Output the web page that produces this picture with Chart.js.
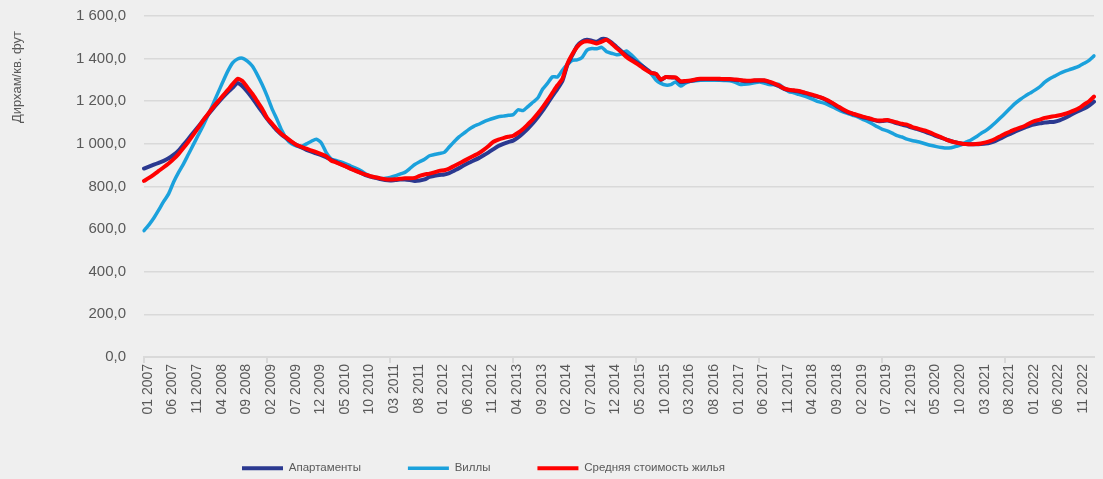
<!DOCTYPE html>
<html>
<head>
<meta charset="utf-8">
<script src="https://cdn.jsdelivr.net/npm/chart.js@4.4.1/dist/chart.umd.min.js"></script>
<style>
  body { margin: 0; background: #efefef; }
  #wrap { width: 1103px; height: 479px; position: relative; }
</style>
</head>
<body>
<div id="wrap"><canvas id="price_chart"></canvas></div>
<script>
// Monthly series, 01 2007 .. 02 2023
let apartments = [
  884, 893, 902, 911, 920, 932, 948, 968, 995, 1023, 1052, 1080,
  1109, 1137, 1165, 1192, 1218, 1242, 1263, 1285, 1270, 1245, 1215, 1182,
  1150, 1118, 1090, 1063, 1042, 1025, 1008, 994, 983, 972, 963, 955,
  947, 937, 925, 915, 905, 895, 884, 874, 865, 853, 846, 840,
  835, 830, 828, 830, 832, 833, 830, 826, 828, 833, 845, 850,
  854, 856, 862, 874, 886, 899, 911, 922, 933, 946, 960, 975,
  990, 1000, 1008, 1015, 1030, 1050, 1072, 1097, 1125, 1156, 1190, 1225,
  1258, 1295, 1370, 1415, 1460, 1480, 1488, 1484, 1479, 1492, 1490, 1475,
  1455, 1435, 1416, 1400, 1384, 1368, 1352, 1334, 1328, 1300, 1313, 1312,
  1310, 1290, 1292, 1295, 1300, 1303, 1304, 1304, 1304, 1303, 1302, 1302,
  1300, 1298, 1294, 1294, 1296, 1297, 1296, 1290, 1280, 1270, 1258, 1252,
  1249, 1246, 1240, 1234, 1227, 1220, 1212, 1200, 1188, 1172, 1158, 1148,
  1140, 1132, 1125, 1120, 1113, 1107, 1107, 1110, 1104, 1096, 1090, 1084,
  1076, 1070, 1062, 1054, 1046, 1036, 1028, 1020, 1012, 1006, 1002, 999,
  998, 998, 999, 1001, 1006, 1014, 1025, 1037, 1047, 1058, 1068, 1077,
  1086, 1092, 1096, 1100, 1102, 1104, 1110, 1120, 1132, 1145, 1156, 1166,
  1180, 1198
]
let villas = [
  593, 620, 652, 690, 730, 765, 820, 865, 905, 950, 995, 1040,
  1085, 1135, 1185, 1238, 1290, 1340, 1380, 1398, 1402, 1388, 1365, 1325,
  1278, 1225, 1165, 1115, 1062, 1022, 1000, 990, 988, 1000, 1012, 1022,
  1005, 960, 930, 922, 915, 906, 896, 886, 875, 860, 848, 843,
  839, 838, 842, 849, 858, 866, 884, 903, 916, 928, 944, 950,
  955, 960, 985, 1010, 1033, 1050, 1068, 1082, 1092, 1103, 1112, 1120,
  1127, 1130, 1134, 1137, 1160, 1156, 1175, 1195, 1215, 1257, 1285, 1315,
  1314, 1345, 1372, 1392, 1394, 1405, 1440, 1447, 1446, 1453, 1432, 1425,
  1418, 1422, 1436, 1418, 1395, 1372, 1350, 1330, 1300, 1284, 1276, 1278,
  1290, 1271, 1285, 1293, 1296, 1298, 1298, 1298, 1298, 1298, 1297, 1296,
  1290, 1279, 1280, 1282, 1286, 1290, 1285, 1278, 1278, 1279, 1262, 1245,
  1240, 1232, 1225, 1217, 1208, 1198, 1192, 1183, 1172, 1160, 1150, 1142,
  1134, 1126, 1115, 1105, 1093, 1080, 1068, 1061, 1050, 1038, 1032, 1022,
  1016, 1011, 1005, 998, 992, 987, 983, 980, 982, 988, 995, 1008,
  1018, 1032, 1048, 1062, 1080, 1100, 1122, 1145, 1168, 1190, 1208, 1224,
  1238, 1252, 1268, 1290, 1306, 1318, 1330, 1340, 1348, 1356, 1365, 1378,
  1392, 1413
]
let average = [
  826, 840, 856, 873, 890, 908, 928, 952, 980, 1010, 1042, 1075,
  1109, 1140, 1170, 1198, 1225, 1252, 1280, 1305, 1295, 1265, 1235, 1200,
  1165, 1122, 1095, 1068, 1045, 1028, 1010, 995, 986, 977, 969, 961,
  952, 942, 922, 913, 904, 894, 882, 873, 864, 856, 848, 843,
  838, 834, 833, 834, 836, 838, 838, 840, 850, 856, 860, 866,
  873, 876, 884, 896, 908, 920, 932, 944, 956, 972, 990, 1010,
  1020, 1027, 1033, 1038, 1052, 1070, 1092, 1115, 1142, 1172, 1205, 1240,
  1275, 1305, 1375, 1420, 1455, 1476, 1481, 1478, 1471, 1480, 1488, 1470,
  1450, 1430, 1408, 1392, 1378, 1362, 1346, 1333, 1328, 1302, 1314, 1312,
  1312, 1294, 1295, 1297, 1302, 1305, 1306, 1306, 1306, 1305, 1304, 1304,
  1302, 1300, 1297, 1296, 1298, 1299, 1298, 1292, 1284, 1274, 1260, 1254,
  1251, 1248, 1242, 1236, 1229, 1222, 1214, 1203, 1190, 1176, 1162, 1150,
  1142, 1134, 1128, 1122, 1115, 1110, 1110, 1112, 1106, 1100, 1094, 1090,
  1080, 1073, 1066, 1060, 1050, 1040, 1030, 1020, 1012, 1006, 1002, 999,
  998, 999, 1002, 1007, 1014, 1024, 1036, 1048, 1058, 1068, 1076, 1085,
  1098, 1108, 1114, 1122, 1126, 1130, 1134, 1140, 1148, 1157, 1168, 1185,
  1200, 1222
]
let seriesNames = ['Апартаменты', 'Виллы', 'Средняя стоимость жилья']
let yTitle = 'Дирхам/кв. фут'

// Category labels "MM YYYY", one per month
let months = []
for (let y = 2007; months.length < apartments.length; y++) {
  for (let m = 1; m <= 12 && months.length < apartments.length; m++) {
    months.push((m < 10 ? '0' + m : '' + m) + ' ' + y)
  }
}

// 1 600,0 style numbers
function fmtY(v) {
  let parts = v.toFixed(1).split('.')
  return parts[0].replace(/\B(?=(\d{3})+(?!\d))/g, ' ') + ',' + parts[1]
}

let textColor = '#595959'
let gridColor = '#d9d9d9'

// rotated axis title sits near the top of the axis, not centred
const axisTitle = {
  id: 'axisTitle',
  afterDraw(chart) {
    const {ctx, chartArea} = chart
    ctx.save()
    ctx.translate(17, chartArea.top + 61)
    ctx.rotate(-Math.PI / 2)
    ctx.font = '13px "Liberation Sans", Arial, sans-serif'
    ctx.fillStyle = textColor
    ctx.textAlign = 'center'
    ctx.textBaseline = 'middle'
    ctx.fillText(yTitle, 0, 0)
    ctx.restore()
  }
}

// the legend in the original sits a bit left of the centre
const legendShift = {
  id: 'legendShift',
  afterLayout(chart) {
    if (chart.legend) chart.legend.right -= 135
  }
}

let lineStyle = {
  fill: false,
  pointRadius: 0,
  tension: 0.2,
  borderJoinStyle: 'round',
  borderCapStyle: 'round'
}

let ctx = document.getElementById('price_chart')
new Chart(ctx, {
  type: 'line',
  data: {
    labels: months,
    datasets: [
      Object.assign({label: seriesNames[0], data: apartments, borderColor: '#2b3990', backgroundColor: '#2b3990', borderWidth: 4, order: 1}, lineStyle),
      Object.assign({label: seriesNames[1], data: villas, borderColor: '#1ba1dc', backgroundColor: '#1ba1dc', borderWidth: 3.5, order: 2}, lineStyle),
      Object.assign({label: seriesNames[2], data: average, borderColor: '#ff0000', backgroundColor: '#ff0000', borderWidth: 4, order: 0}, lineStyle)
    ]
  },
  plugins: [axisTitle, legendShift],
  options: {
    responsive: true,
    maintainAspectRatio: false,
    animation: false,
    layout: {
      padding: {left: 8, right: 9, top: 16, bottom: -5}
    },
    plugins: {
      tooltip: {enabled: false},
      legend: {
        position: 'bottom',
        labels: {
          usePointStyle: true,
          pointStyle: 'line',
          pointStyleWidth: 41,
          padding: 47,
          color: textColor,
          font: {family: '"Liberation Sans", Arial, sans-serif', size: 11.5},
          sort: (a, b) => a.datasetIndex - b.datasetIndex
        }
      }
    },
    scales: {
      x: {
        ticks: {
          autoSkip: false,
          minRotation: 90,
          maxRotation: 90,
          padding: 1,
          labelOffset: 4,
          color: textColor,
          font: {family: '"Liberation Sans", Arial, sans-serif', size: 14},
          callback: function (value, index) {
            return index % 5 === 0 ? this.getLabelForValue(value) : null
          }
        },
        grid: {
          drawOnChartArea: false,
          drawTicks: true,
          tickLength: 6,
          lineWidth: 2,
          color: c => (c.index % 5 === 0 ? gridColor : 'rgba(0,0,0,0)')
        },
        border: {display: true, color: gridColor, width: 2}
      },
      y: {
        min: 0,
        max: 1600,
        afterFit: s => { s.width = 136 },
        ticks: {
          stepSize: 200,
          padding: 3,
          color: textColor,
          font: {family: '"Liberation Sans", Arial, sans-serif', size: 15},
          callback: v => fmtY(v)
        },
        grid: {color: gridColor, lineWidth: 1.5, drawTicks: true, tickLength: 15, tickColor: 'rgba(0,0,0,0)'},
        border: {display: false}
      }
    }
  }
})
</script>
</body>
</html>
